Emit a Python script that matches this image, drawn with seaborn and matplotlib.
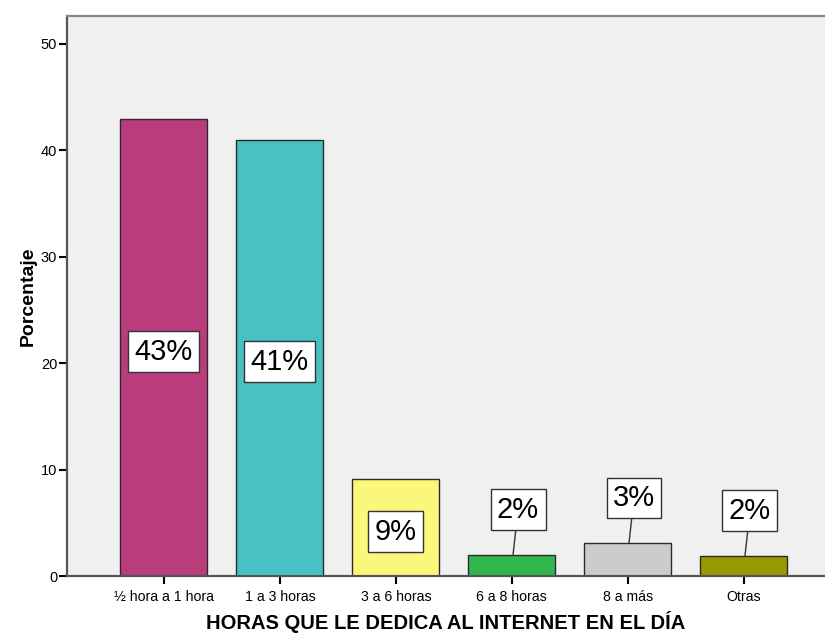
import matplotlib
matplotlib.use("Agg")
import matplotlib.pyplot as plt
import seaborn as sns
import pandas as pd

categorias = ["½ hora a 1 hora", "1 a 3 horas", "3 a 6 horas",
              "6 a 8 horas", "8 a más", "Otras"]
porcentajes = [42.9, 41.0, 9.1, 2.0, 3.1, 1.9]
colores = ["#b93d7a", "#48c1c4", "#fbf77a", "#2eb84b", "#cccccc", "#999900"]
yticks = [0, 10, 20, 30, 40, 50]

sns.set_theme(style="white")
plt.rcParams["font.family"] = ["Liberation Sans", "DejaVu Sans"]
plt.rcParams["text.color"] = "black"
plt.rcParams["axes.labelcolor"] = "black"
plt.rcParams["xtick.color"] = "black"
plt.rcParams["ytick.color"] = "black"

df = pd.DataFrame({"cat": categorias, "pct": porcentajes})

fig = plt.figure(figsize=(8.25, 6.35), dpi=100)
ax = fig.add_axes([0.0812, 0.0929, 0.9188, 0.8819])
ax.set_facecolor("#f0f0f0")

sns.barplot(data=df, x="cat", y="pct", hue="cat", palette=colores,
            order=categorias, hue_order=categorias, legend=False,
            saturation=1, width=0.75, edgecolor="#2a2a2a", linewidth=1.0,
            ax=ax)

ax.set_xlim(-0.836, 5.7)
ax.set_ylim(0, 52.6)
ax.set_yticks(yticks)
ax.set_yticklabels([str(t) for t in yticks], fontsize=10.5)
ax.tick_params(axis="x", labelsize=10.2, length=6, width=1.5,
               direction="out", bottom=True, pad=4)
ax.tick_params(axis="y", length=6, width=1.5,
               direction="out", left=True, pad=1)
for t in ax.get_xticklines() + ax.get_yticklines():
    t.set_color("#444444")

for side in ["left", "bottom"]:
    ax.spines[side].set_color("#555555")
    ax.spines[side].set_linewidth(1.6)
ax.spines["top"].set_color("#888888")
ax.spines["top"].set_linewidth(1.6)
ax.spines["right"].set_visible(False)

ax.set_xlabel("HORAS QUE LE DEDICA AL INTERNET EN EL DÍA",
              fontsize=14.5, fontweight="bold", labelpad=5)
ax.set_ylabel("Porcentaje", fontsize=14, fontweight="bold", labelpad=3)

caja = dict(boxstyle="square,pad=0.22", facecolor="white",
            edgecolor="#333333", linewidth=1.0)
for i, v in enumerate(porcentajes):
    etiqueta = f"{round(v):.0f}%"
    if v > 6:
        ax.annotate(etiqueta, xy=(i, v / 2), xytext=(0, -4),
                    textcoords="offset pixels", ha="center", va="center",
                    fontsize=21, bbox=caja)
    else:
        ax.annotate(etiqueta, xy=(i + 0.01, v), xytext=(5, 45),
                    textcoords="offset pixels", ha="center", va="center",
                    fontsize=21, bbox=caja,
                    arrowprops=dict(arrowstyle="-", color="#333333",
                                    linewidth=1.0, shrinkA=0, shrinkB=0))

fig.savefig("out.png", dpi=100)
